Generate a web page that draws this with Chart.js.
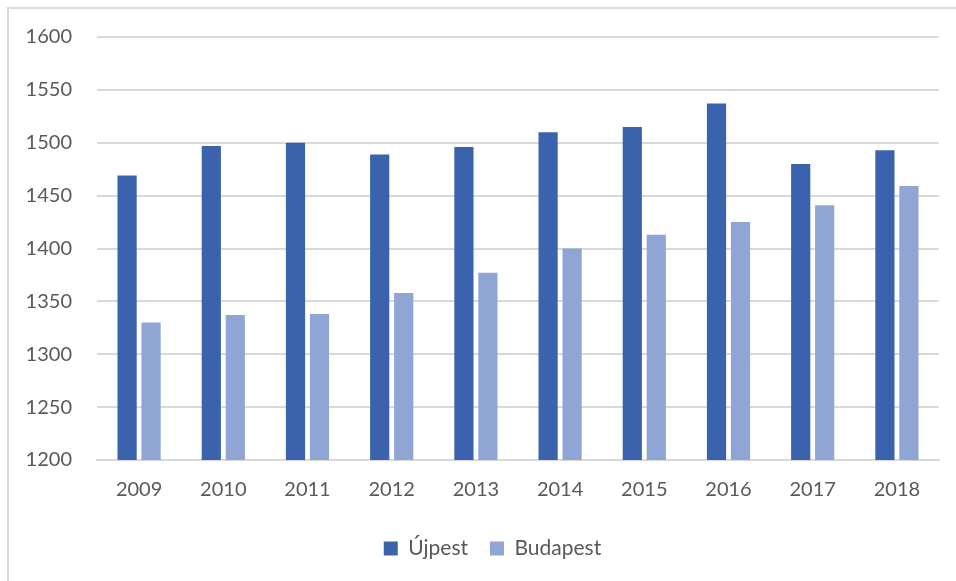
<!DOCTYPE html>
<html>
<head>
<meta charset="utf-8">
<script src="https://cdn.jsdelivr.net/npm/chart.js@4.4.1/dist/chart.umd.min.js"></script>
<style>
  html, body { margin: 0; padding: 0; background: #fff; overflow: hidden; }
  #frame { position: absolute; left: 7px; top: 7px; width: 1000px; height: 700px; border: 2px solid #d9d9d9; box-sizing: border-box; }
  #wrap { position: absolute; left: 0; top: 0; width: 956px; height: 581px; }
</style>
</head>
<body>
<div id="frame"></div>
<div id="wrap"><canvas id="chart" width="956" height="581"></canvas></div>
<script>
// values
var years = ['2009', '2010', '2011', '2012', '2013', '2014', '2015', '2016', '2017', '2018'];
var ujpest = [1469, 1497, 1500, 1489, 1496, 1510, 1515, 1537, 1480, 1493];
var budapest = [1330, 1337, 1338, 1358, 1377, 1400, 1413, 1425, 1441, 1459];
var yMin = 1200, yMax = 1600, yStep = 50;

var textColor = '#595959';
var gridColor = '#d9d9d9';
var fontFamily = 'Lato, "Open Sans", sans-serif';

// the original legend sits centred on a wider frame, nudge it right
var legendShift = {
    id: 'legendShift',
    afterLayout: function(chart) {
        chart.legend.left += 23;
        chart.legend.right += 23;
    }
};

var ctx = document.getElementById('chart').getContext('2d');
var myChart = new Chart(ctx, {
    type: 'bar',
    data: {
        labels: years,
        datasets: [{
            label: 'Újpest',
            data: ujpest,
            backgroundColor: '#3b63ad',
            barPercentage: 0.8,
            categoryPercentage: 0.57
        }, {
            label: 'Budapest',
            data: budapest,
            backgroundColor: '#8fa5d4',
            barPercentage: 0.8,
            categoryPercentage: 0.57
        }]
    },
    options: {
        responsive: false,
        animation: false,
        layout: { padding: { left: 0, right: 17, top: 37, bottom: 12 } },
        scales: {
            x: {
                grid: { display: false, drawTicks: false },
                border: { color: gridColor, width: 2 },
                ticks: { color: textColor, font: { family: fontFamily, size: 20 }, padding: 18 },
                afterFit: function(scale) { scale.height = 56; }
            },
            y: {
                min: yMin,
                max: yMax,
                grid: { color: gridColor, lineWidth: 2, drawTicks: false },
                border: { display: false },
                ticks: {
                    stepSize: yStep,
                    color: textColor,
                    font: { family: fontFamily, size: 20 },
                    padding: 25,
                    callback: function(v) { return String(v); }
                },
                afterFit: function(scale) { scale.width = 97; }
            }
        },
        plugins: {
            tooltip: { enabled: false },
            legend: {
                position: 'bottom',
                labels: {
                    boxWidth: 14,
                    boxHeight: 14,
                    padding: 22,
                    color: textColor,
                    font: { family: fontFamily, size: 21 }
                }
            }
        }
    },
    plugins: [legendShift]
});
</script>
</body>
</html>
